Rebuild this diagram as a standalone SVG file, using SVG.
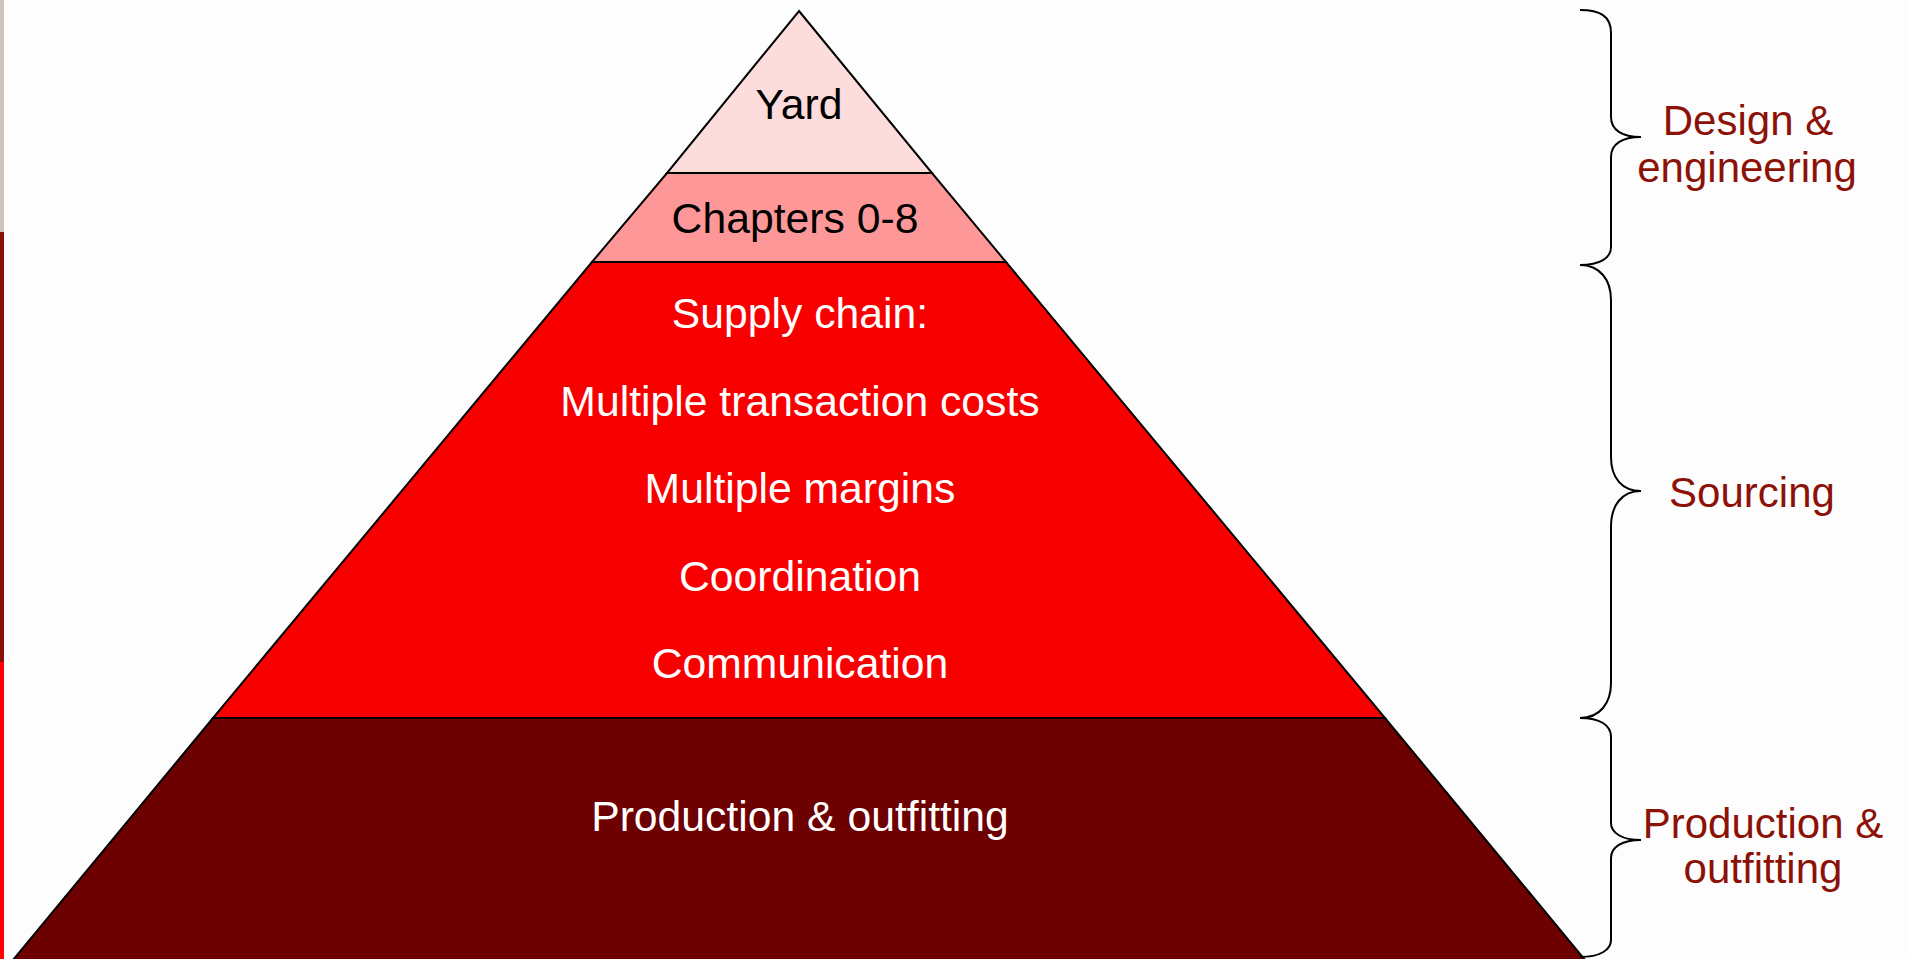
<svg xmlns="http://www.w3.org/2000/svg" width="1906" height="959" viewBox="0 0 1906 959">
<style>
.t{font-family:"Liberation Sans",Arial,sans-serif;font-size:42.7px;text-anchor:middle}
.s{font-size:42px}
.dk{fill:#000}
.wh{fill:#fff}
.lb{fill:#8c1208}
.tier{stroke:#000;stroke-width:2;stroke-linejoin:miter}
.brace{fill:none;stroke:#000;stroke-width:2}
</style>
<rect x="0" y="0" width="1906" height="959" fill="#fdfdfd"/>
<rect x="0" y="0" width="4" height="232" fill="#cdc4bc"/>
<rect x="0" y="232" width="4" height="430" fill="#8b1008"/>
<rect x="0" y="662" width="4" height="297" fill="#ff0000"/>
<g id="tier-production">
<polygon class="tier" points="213,718 1385,718 1585,960 13,960" fill="#6d0000"/>
<text class="t wh" x="800" y="831">Production &amp; outfitting</text>
</g>
<g id="tier-supply">
<polygon class="tier" points="592,262 1006,262 1385,718 213,718" fill="#f80000"/>
<text class="t wh" x="800" y="328">Supply chain:</text>
<text class="t wh" x="800" y="416">Multiple transaction costs</text>
<text class="t wh" x="800" y="503">Multiple margins</text>
<text class="t wh" x="800" y="591">Coordination</text>
<text class="t wh" x="800" y="678">Communication</text>
</g>
<g id="tier-chapters">
<polygon class="tier" points="667,173 932,173 1006,262 592,262" fill="#fe9898"/>
<text class="t dk" x="795" y="233">Chapters 0-8</text>
</g>
<g id="tier-yard">
<polygon class="tier" points="799,11 932,173 667,173" fill="#fddcdc"/>
<text class="t dk" x="799" y="119">Yard</text>
</g>
<g id="connectors">
<path class="brace" d="M1580,10 C1600,10 1611,16 1611,33 L1611,117 C1611,130 1622,137 1641,137 C1622,137 1611,144 1611,157 L1611,247 C1611,258 1600,265 1580,265"/>
<path class="brace" d="M1580,265 C1600,265 1611,280 1611,300 L1611,457 C1611,478 1622,491 1641,491 C1622,491 1611,505 1611,527 L1611,683 C1611,703 1600,718 1580,718"/>
<path class="brace" d="M1580,718 C1600,718 1611,725 1611,737 L1611,823 C1611,833 1622,840 1641,840 C1622,840 1611,847 1611,858 L1611,940 C1611,950 1600,957 1580,957"/>
</g>
<g id="label-design">
<text class="t s lb" x="1748" y="135">Design &amp;</text>
<text class="t s lb" x="1747" y="182">engineering</text>
</g>
<g id="label-sourcing">
<text class="t s lb" x="1752" y="507">Sourcing</text>
</g>
<g id="label-production">
<text class="t s lb" x="1763" y="838">Production &amp;</text>
<text class="t s lb" x="1763" y="883">outfitting</text>
</g>
</svg>
